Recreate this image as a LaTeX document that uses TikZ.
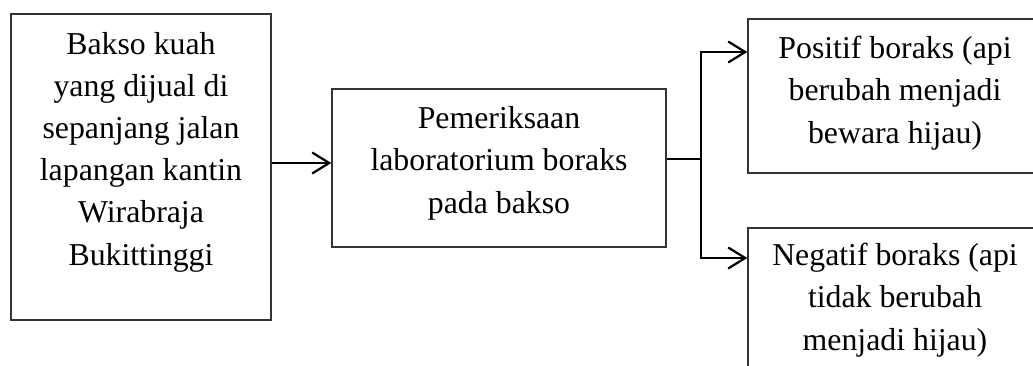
\documentclass[tikz,border=0pt]{standalone}
\usepackage{fontspec}
\setmainfont{Liberation Serif}
\usetikzlibrary{arrows.meta}

\tikzset{
  box/.style={draw=black!80, line width=1.4pt, rectangle, inner sep=0pt},
  % multi-line text nodes are placed by the baseline of their last line
  boxtext/.style={align=center, inner sep=0pt, anchor=base,
    font=\fontsize{31.8}{42.2}\selectfont},
  conn/.style={draw=black, line width=2.2pt},
  arr/.style={conn, -{Straight Barb[length=17pt, width=21pt, line width=2.2pt]}},
}

\begin{document}
\begin{tikzpicture}[x=1pt, y=-1pt]
  \useasboundingbox (0,0) rectangle (1033,365);
  \clip (0,0) rectangle (1033,365);

  % boxes
  \node[box, minimum width=260pt, minimum height=306pt] (b1) at (141,167) {};
  \node[box, minimum width=334pt, minimum height=158pt] (b2) at (499,168) {};
  \node[box, minimum width=294pt, minimum height=154pt] (b3) at (895,96) {};
  \node[box, minimum width=294pt, minimum height=154pt] (b4) at (895,305) {};

  % texts
  \node[boxtext] (t1) at (141,265) {Bakso kuah\\yang dijual di\\sepanjang jalan\\lapangan kantin\\Wirabraja\\Bukittinggi};
  \node[boxtext] (t2) at (499,213) {Pemeriksaan\\laboratorium boraks\\pada bakso};
  \node[boxtext] (t3) at (895,143) {Positif boraks (api\\berubah menjadi\\bewara hijau)};
  \node[boxtext] (t4) at (895,350) {Negatif boraks (api\\tidak berubah\\menjadi hijau)};

  % connectors
  \coordinate (in2) at (0,163);
  \draw[arr] (b1.east |- in2) -- (b2.west |- in2);

  \coordinate (split) at (701,159);
  \coordinate (up) at (0,52);
  \coordinate (down) at (0,258);
  \draw[conn] (b2.east |- split) -- (split);
  \draw[arr] (split) |- (b3.west |- up);
  \draw[arr] (split) |- (b4.west |- down);
\end{tikzpicture}
\end{document}
